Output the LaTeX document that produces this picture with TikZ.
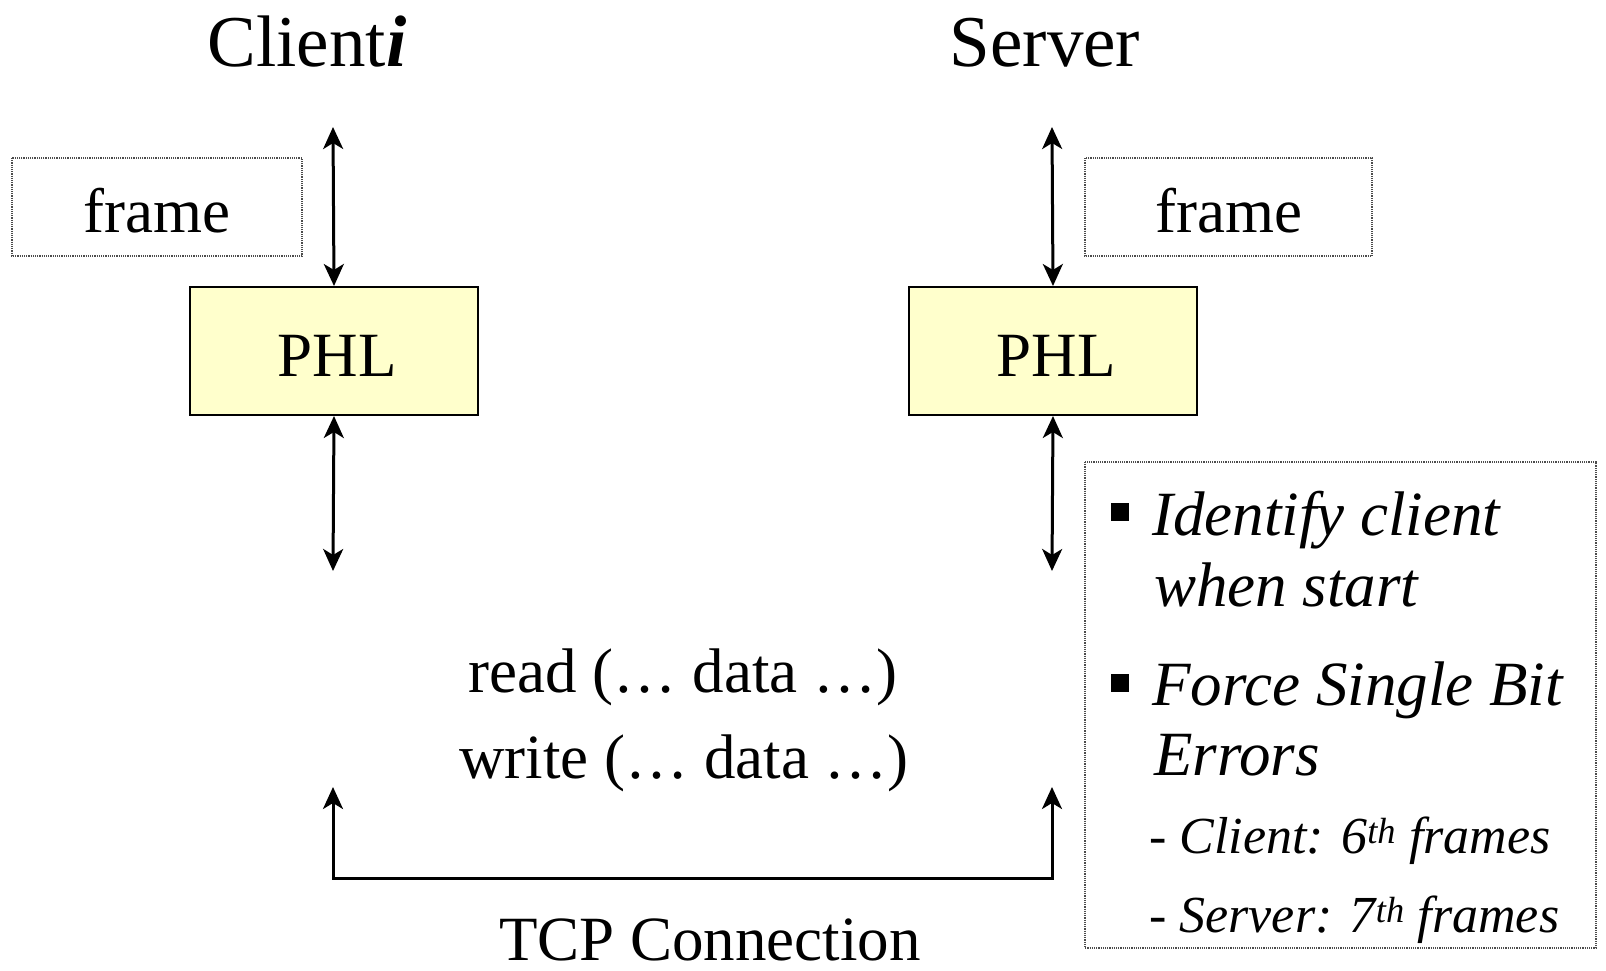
\documentclass[tikz,border=0pt]{standalone}
\usepackage{fontspec}
\setmainfont{Liberation Serif}
\usetikzlibrary{arrows.meta}
\definecolor{phlfill}{RGB}{255,255,204}
\tikzset{
  body/.style={font=\fontsize{63}{70}\selectfont, inner sep=0pt},
  ttl/.style={font=\fontsize{73}{80}\selectfont, inner sep=0pt},
  notetxt/.style={font=\fontsize{63}{70}\selectfont\itshape, inner sep=0pt, anchor=base west},
  subtxt/.style={font=\fontsize{52}{60}\selectfont\itshape, inner sep=0pt, anchor=base west},
  dotbox/.style={draw=black!70, densely dotted, line width=1.2pt},
  phlbox/.style={draw=black, line width=2pt, fill=phlfill},
  biarrow/.style={line width=3pt, >={Stealth[length=22pt,width=20pt,inset=6pt]}, <->},
  bullet/.style={fill=black, inner sep=0pt, minimum size=18pt},
}
\begin{document}
\begin{tikzpicture}[x=1pt,y=-1pt]
\useasboundingbox (0,0) rectangle (1606,971);
% titles
\node[ttl, anchor=base] (clientT) at (307,67) {Client\textbf{\textit{i}}};
\node[ttl, anchor=base] (serverT) at (1045,67) {Server};
% frame boxes
\draw[dotbox] (12,158) rectangle (302,256);
\node[body, anchor=base] (lframe) at (157,232) {frame};
\draw[dotbox] (1085,158) rectangle (1372,256);
\node[body, anchor=base] (rframe) at (1229,232) {frame};
% PHL boxes
\node[phlbox, minimum width=288pt, minimum height=128pt, anchor=north west, inner sep=0pt] (lphl) at (189,286) {};
\node[body, anchor=base] at (337,376) {PHL};
\node[phlbox, minimum width=288pt, minimum height=128pt, anchor=north west, inner sep=0pt] (rphl) at (908,286) {};
\node[body, anchor=base] at (1056,376) {PHL};
% arrow end coordinates
\coordinate (ltop) at (333,127);
\coordinate (lbot) at (333,571);
\coordinate (rtop) at (1052,127);
\coordinate (rbot) at (1052,571);
\coordinate (ltcp) at (333,787);
\coordinate (rtcp) at (1052,787);
\coordinate (lcorner) at (333,878);
\coordinate (rcorner) at (1052,878);
% arrows
\draw[biarrow] (ltop) -- (lphl.north);
\draw[biarrow] (lphl.south) -- (lbot);
\draw[biarrow] (rtop) -- (rphl.north);
\draw[biarrow] (rphl.south) -- (rbot);
\draw[biarrow] (ltcp) -- (lcorner) -- (rcorner) -- (rtcp);
% middle texts
\node[body, anchor=base] (readT) at (683,692) {read (… data …)};
\node[body, anchor=base] (writeT) at (684,778) {write (… data …)};
\node[body, anchor=base] (tcpT) at (710,960) {TCP Connection};
% note box
\draw[dotbox] (1085,462) rectangle (1596,948);
\node[bullet] (b1) at (1120,512) {};
\node[bullet] (b2) at (1120,683) {};
\node[notetxt] (n1) at (1152,535) {Identify client};
\node[notetxt] (n2) at (1154,606) {when start};
\node[notetxt] (n3) at (1152,705) {Force Single Bit};
\node[notetxt] (n4) at (1154,775) {Errors};
\node[subtxt] (n5) at (1149,853) {- Client: 6\textsuperscript{th} frames};
\node[subtxt] (n6) at (1149,932) {- Server: 7\textsuperscript{th} frames};
\end{tikzpicture}
\end{document}
